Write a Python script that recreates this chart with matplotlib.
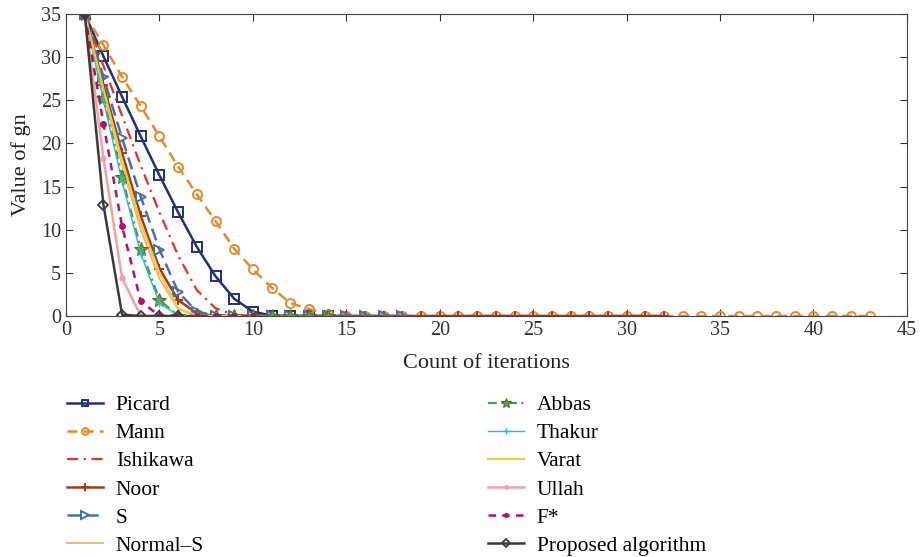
import matplotlib
matplotlib.use("Agg")
import matplotlib.pyplot as plt
import numpy as np

plt.rcParams['font.family'] = ['Liberation Serif', 'DejaVu Serif']

# iteration values for each method (x starts at 1)
picard = [35, 30.1, 25.4, 20.8, 16.3, 12.0, 8.0, 4.6, 2.0, 0.5, 0.05, 0, 0, 0]
mann = [35, 31.4, 27.7, 24.3, 20.8, 17.3, 14.1, 11.0, 7.8, 5.4, 3.3, 1.5, 0.8, 0.25] + [0] * 29
ishikawa = [35, 29.0, 23.2, 17.4, 12.0, 7.0, 3.0, 0.9, 0.15, 0, 0, 0]
noor = [35, 26.8, 18.9, 11.6, 5.5, 1.85, 0.3, 0.02] + [0] * 24
s_iter = [35, 27.7, 20.6, 13.8, 7.7, 2.8, 0.5, 0.05] + [0] * 10
normal_s = [35, 25.8, 17.5, 10.0, 4.3, 0.8, 0.05, 0, 0, 0]
abbas = [35, 25.3, 16.1, 7.8, 1.85, 0.05, 0, 0, 0, 0, 0, 0, 0, 0]
thakur = [35, 25.0, 15.6, 7.2, 1.5, 0.05, 0, 0, 0, 0]
varat = [35, 26.3, 18.0, 10.8, 5.0, 0.9, 0.05, 0, 0, 0]
ullah = [35, 18.3, 4.4, 0.0]
fstar = [35, 22.3, 10.4, 1.7, 0.0, 0, 0, 0, 0, 0]
proposed = [35, 12.9, 0.15, 0, 0, 0]

names = ["Picard", "Mann", "Ishikawa", "Noor", "S", "Normal\u2013S",
         "Abbas", "Thakur", "Varat", "Ullah", "F*", "Proposed algorithm"]
series = [picard, mann, ishikawa, noor, s_iter, normal_s,
          abbas, thakur, varat, ullah, fstar, proposed]

styles = {
    "Picard": dict(color="#22307a", ls="-", marker="s", ms=6.5, mfc="none", mew=1.4, lw=1.8),
    "Mann": dict(color="#e58a2c", ls=(0, (4, 2.5)), marker="o", ms=6.5, mfc="none", mew=1.4, lw=1.8),
    "Ishikawa": dict(color="#e8302a", ls=(0, (5, 2.5, 1, 2.5)), marker=None, lw=1.6),
    "Noor": dict(color="#a8361a", ls="-", marker="+", ms=7, mew=1.4, lw=1.8),
    "S": dict(color="#4a6fa5", ls=(0, (5, 2.5)), marker=">", ms=7, mfc="none", mew=1.4, lw=1.8),
    "Normal\u2013S": dict(color="#f2b37a", ls="-", marker=None, lw=1.4),
    "Abbas": dict(color="#4c9a4c", ls=(0, (4, 2, 1, 2)), marker="*", ms=10, mfc="#5fa45a", mec="#5a6b1e", mew=0.8, lw=1.6),
    "Thakur": dict(color="#1fbfbf", ls="-", marker="+", ms=6, mew=1.0, lw=1.0),
    "Varat": dict(color="#e8cf3a", ls="-", marker=None, lw=1.6),
    "Ullah": dict(color="#f4a0a0", ls="-", marker="o", ms=4.5, mew=0, lw=1.8),
    "F*": dict(color="#b0106f", ls=(0, (3, 2.5)), marker="o", ms=5, mew=0, lw=1.8),
    "Proposed algorithm": dict(color="#3a3a3a", ls="-", marker="D", ms=5, mfc="none", mew=1.3, lw=1.8),
}

fig = plt.figure(figsize=(9.21, 5.57), dpi=100)
ax = fig.add_axes([0.0717, 0.4327, 0.913, 0.5423])

for name, vals in zip(names, series):
    x = np.arange(1, len(vals) + 1)
    ax.plot(x, vals, label=name, **styles[name])

ax.set_xlim(0, 45)
ax.set_ylim(0, 35)
ax.set_xticks(np.arange(0, 46, 5))
ax.set_yticks(np.arange(0, 36, 5))
ax.tick_params(direction="in", top=True, right=True, labelsize=14.5,
               colors="#333333", length=5, width=0.8)
for sp in ax.spines.values():
    sp.set_color("#444444")
    sp.set_linewidth(0.8)
ax.set_xlabel("Count of iterations", fontsize=16, color="#222222", labelpad=10)
ax.set_ylabel("Value of gn", fontsize=16, color="#222222", labelpad=7)

handles, labels = ax.get_legend_handles_labels()
fig.legend(handles, labels, loc="upper left", bbox_to_anchor=(0.052, 0.325),
           ncol=2, frameon=False, fontsize=15.5, columnspacing=13.2,
           handlelength=1.65, labelspacing=0.37, handletextpad=0.6,
           markerscale=0.75)

fig.savefig("out.png", dpi=100)
